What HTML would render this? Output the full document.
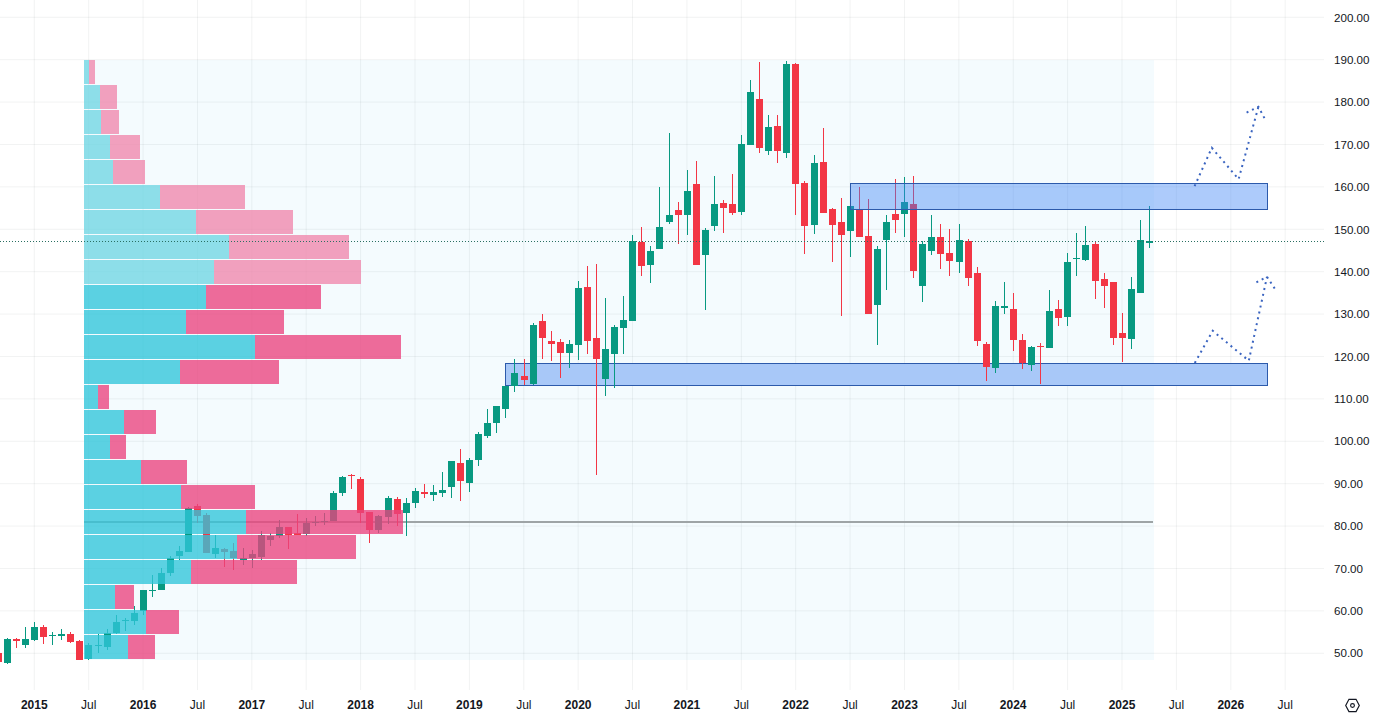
<!DOCTYPE html>
<html lang="en"><head><meta charset="utf-8"><title>Chart</title>
<style>html,body{margin:0;padding:0;background:#fff;}body{width:1376px;height:715px;overflow:hidden;}svg{display:block;}text{font-family:"Liberation Sans","DejaVu Sans",sans-serif;fill:#131722;}</style></head><body>
<svg width="1376" height="715" viewBox="0 0 1376 715">
<rect width="1376" height="715" fill="#ffffff"/>
<rect x="84" y="60" width="1070" height="600" fill="#f4fbfe" shape-rendering="crispEdges"/>
<g stroke="#2a2e39" stroke-opacity="0.06" stroke-width="1">
<line x1="34.30" y1="0" x2="34.30" y2="690"/>
<line x1="88.69" y1="0" x2="88.69" y2="690"/>
<line x1="143.07" y1="0" x2="143.07" y2="690"/>
<line x1="197.46" y1="0" x2="197.46" y2="690"/>
<line x1="251.84" y1="0" x2="251.84" y2="690"/>
<line x1="306.23" y1="0" x2="306.23" y2="690"/>
<line x1="360.62" y1="0" x2="360.62" y2="690"/>
<line x1="415.00" y1="0" x2="415.00" y2="690"/>
<line x1="469.39" y1="0" x2="469.39" y2="690"/>
<line x1="523.77" y1="0" x2="523.77" y2="690"/>
<line x1="578.16" y1="0" x2="578.16" y2="690"/>
<line x1="632.55" y1="0" x2="632.55" y2="690"/>
<line x1="686.93" y1="0" x2="686.93" y2="690"/>
<line x1="741.32" y1="0" x2="741.32" y2="690"/>
<line x1="795.70" y1="0" x2="795.70" y2="690"/>
<line x1="850.09" y1="0" x2="850.09" y2="690"/>
<line x1="904.48" y1="0" x2="904.48" y2="690"/>
<line x1="958.86" y1="0" x2="958.86" y2="690"/>
<line x1="1013.25" y1="0" x2="1013.25" y2="690"/>
<line x1="1067.63" y1="0" x2="1067.63" y2="690"/>
<line x1="1122.02" y1="0" x2="1122.02" y2="690"/>
<line x1="1176.41" y1="0" x2="1176.41" y2="690"/>
<line x1="1230.79" y1="0" x2="1230.79" y2="690"/>
<line x1="1285.18" y1="0" x2="1285.18" y2="690"/>
<line x1="0" y1="17.30" x2="1324" y2="17.30"/>
<line x1="0" y1="59.70" x2="1324" y2="59.70"/>
<line x1="0" y1="102.10" x2="1324" y2="102.10"/>
<line x1="0" y1="144.50" x2="1324" y2="144.50"/>
<line x1="0" y1="186.90" x2="1324" y2="186.90"/>
<line x1="0" y1="229.30" x2="1324" y2="229.30"/>
<line x1="0" y1="271.70" x2="1324" y2="271.70"/>
<line x1="0" y1="314.10" x2="1324" y2="314.10"/>
<line x1="0" y1="356.50" x2="1324" y2="356.50"/>
<line x1="0" y1="398.90" x2="1324" y2="398.90"/>
<line x1="0" y1="441.30" x2="1324" y2="441.30"/>
<line x1="0" y1="483.70" x2="1324" y2="483.70"/>
<line x1="0" y1="526.10" x2="1324" y2="526.10"/>
<line x1="0" y1="568.50" x2="1324" y2="568.50"/>
<line x1="0" y1="610.90" x2="1324" y2="610.90"/>
<line x1="0" y1="653.30" x2="1324" y2="653.30"/>
</g>
<rect x="84" y="521" width="1069" height="2" fill="#9ea4a6" shape-rendering="crispEdges"/>
<rect x="505.5" y="363.5" width="762" height="22" fill="#a8c8f8" stroke="#2c5aab" stroke-width="1" shape-rendering="crispEdges"/>
<g shape-rendering="crispEdges">
<rect x="-2" y="651" width="1" height="13" fill="#f23645"/>
<rect x="-5" y="653" width="7" height="9" fill="#f23645"/>
<rect x="7" y="638" width="1" height="26" fill="#089981"/>
<rect x="4" y="639" width="7" height="24" fill="#089981"/>
<rect x="16" y="638" width="1" height="10" fill="#f23645"/>
<rect x="13" y="639" width="7" height="2" fill="#f23645"/>
<rect x="25" y="627" width="1" height="21" fill="#089981"/>
<rect x="22" y="639" width="7" height="6" fill="#089981"/>
<rect x="34" y="622" width="1" height="19" fill="#089981"/>
<rect x="31" y="627" width="7" height="13" fill="#089981"/>
<rect x="43" y="625" width="1" height="19" fill="#f23645"/>
<rect x="40" y="627" width="7" height="10" fill="#f23645"/>
<rect x="52" y="632" width="1" height="13" fill="#089981"/>
<rect x="49" y="635" width="7" height="1" fill="#089981"/>
<rect x="61" y="629" width="1" height="11" fill="#089981"/>
<rect x="58" y="634" width="7" height="2" fill="#089981"/>
<rect x="70" y="632" width="1" height="11" fill="#f23645"/>
<rect x="67" y="634" width="7" height="8" fill="#f23645"/>
<rect x="79" y="640" width="1" height="20" fill="#f23645"/>
<rect x="76" y="641" width="7" height="19" fill="#f23645"/>
<rect x="88" y="643" width="1" height="17" fill="#089981"/>
<rect x="85" y="645" width="7" height="14" fill="#089981"/>
<rect x="98" y="634" width="1" height="19" fill="#089981"/>
<rect x="95" y="645" width="7" height="1" fill="#089981"/>
<rect x="107" y="629" width="1" height="21" fill="#089981"/>
<rect x="104" y="633" width="7" height="14" fill="#089981"/>
<rect x="116" y="615" width="1" height="19" fill="#089981"/>
<rect x="113" y="622" width="7" height="11" fill="#089981"/>
<rect x="125" y="618" width="1" height="13" fill="#089981"/>
<rect x="122" y="620" width="7" height="1" fill="#089981"/>
<rect x="134" y="606" width="1" height="19" fill="#089981"/>
<rect x="131" y="613" width="7" height="8" fill="#089981"/>
<rect x="143" y="590" width="1" height="25" fill="#089981"/>
<rect x="140" y="590" width="7" height="21" fill="#089981"/>
<rect x="152" y="575" width="1" height="22" fill="#089981"/>
<rect x="149" y="590" width="7" height="1" fill="#089981"/>
<rect x="161" y="568" width="1" height="22" fill="#089981"/>
<rect x="158" y="573" width="7" height="17" fill="#089981"/>
<rect x="170" y="556" width="1" height="20" fill="#089981"/>
<rect x="167" y="558" width="7" height="15" fill="#089981"/>
<rect x="179" y="546" width="1" height="14" fill="#089981"/>
<rect x="176" y="551" width="7" height="5" fill="#089981"/>
<rect x="188" y="507" width="1" height="45" fill="#089981"/>
<rect x="185" y="508" width="7" height="44" fill="#089981"/>
<rect x="197" y="504" width="1" height="19" fill="#f23645"/>
<rect x="194" y="506" width="7" height="10" fill="#f23645"/>
<rect x="206" y="513" width="1" height="40" fill="#f23645"/>
<rect x="203" y="515" width="7" height="38" fill="#f23645"/>
<rect x="215" y="535" width="1" height="23" fill="#089981"/>
<rect x="212" y="548" width="7" height="6" fill="#089981"/>
<rect x="224" y="548" width="1" height="19" fill="#f23645"/>
<rect x="221" y="549" width="7" height="3" fill="#f23645"/>
<rect x="233" y="543" width="1" height="27" fill="#f23645"/>
<rect x="230" y="551" width="7" height="7" fill="#f23645"/>
<rect x="243" y="548" width="1" height="17" fill="#089981"/>
<rect x="240" y="558" width="7" height="2" fill="#089981"/>
<rect x="252" y="550" width="1" height="18" fill="#089981"/>
<rect x="249" y="554" width="7" height="4" fill="#089981"/>
<rect x="261" y="531" width="1" height="29" fill="#089981"/>
<rect x="258" y="535" width="7" height="22" fill="#089981"/>
<rect x="270" y="533" width="1" height="13" fill="#089981"/>
<rect x="267" y="536" width="7" height="4" fill="#089981"/>
<rect x="279" y="520" width="1" height="18" fill="#089981"/>
<rect x="276" y="527" width="7" height="9" fill="#089981"/>
<rect x="288" y="527" width="1" height="22" fill="#f23645"/>
<rect x="285" y="527" width="7" height="8" fill="#f23645"/>
<rect x="297" y="514" width="1" height="21" fill="#f23645"/>
<rect x="294" y="533" width="7" height="2" fill="#f23645"/>
<rect x="306" y="518" width="1" height="18" fill="#089981"/>
<rect x="303" y="523" width="7" height="11" fill="#089981"/>
<rect x="315" y="516" width="1" height="10" fill="#089981"/>
<rect x="312" y="522" width="7" height="1" fill="#089981"/>
<rect x="324" y="513" width="1" height="12" fill="#089981"/>
<rect x="321" y="521" width="7" height="1" fill="#089981"/>
<rect x="333" y="491" width="1" height="30" fill="#089981"/>
<rect x="330" y="493" width="7" height="28" fill="#089981"/>
<rect x="342" y="476" width="1" height="20" fill="#089981"/>
<rect x="339" y="477" width="7" height="16" fill="#089981"/>
<rect x="351" y="474" width="1" height="15" fill="#f23645"/>
<rect x="348" y="475" width="7" height="1" fill="#f23645"/>
<rect x="360" y="477" width="1" height="46" fill="#f23645"/>
<rect x="357" y="479" width="7" height="34" fill="#f23645"/>
<rect x="369" y="512" width="1" height="31" fill="#f23645"/>
<rect x="366" y="512" width="7" height="18" fill="#f23645"/>
<rect x="378" y="515" width="1" height="18" fill="#089981"/>
<rect x="375" y="516" width="7" height="14" fill="#089981"/>
<rect x="388" y="496" width="1" height="28" fill="#089981"/>
<rect x="385" y="498" width="7" height="19" fill="#089981"/>
<rect x="397" y="497" width="1" height="29" fill="#f23645"/>
<rect x="394" y="499" width="7" height="15" fill="#f23645"/>
<rect x="406" y="498" width="1" height="38" fill="#089981"/>
<rect x="403" y="503" width="7" height="10" fill="#089981"/>
<rect x="415" y="488" width="1" height="20" fill="#089981"/>
<rect x="412" y="491" width="7" height="12" fill="#089981"/>
<rect x="424" y="484" width="1" height="14" fill="#f23645"/>
<rect x="421" y="492" width="7" height="2" fill="#f23645"/>
<rect x="433" y="485" width="1" height="16" fill="#089981"/>
<rect x="430" y="492" width="7" height="3" fill="#089981"/>
<rect x="442" y="472" width="1" height="25" fill="#089981"/>
<rect x="439" y="490" width="7" height="3" fill="#089981"/>
<rect x="451" y="461" width="1" height="37" fill="#089981"/>
<rect x="448" y="461" width="7" height="26" fill="#089981"/>
<rect x="460" y="449" width="1" height="52" fill="#f23645"/>
<rect x="457" y="463" width="7" height="18" fill="#f23645"/>
<rect x="469" y="458" width="1" height="34" fill="#089981"/>
<rect x="466" y="460" width="7" height="23" fill="#089981"/>
<rect x="478" y="432" width="1" height="34" fill="#089981"/>
<rect x="475" y="434" width="7" height="26" fill="#089981"/>
<rect x="487" y="409" width="1" height="29" fill="#089981"/>
<rect x="484" y="423" width="7" height="13" fill="#089981"/>
<rect x="496" y="406" width="1" height="27" fill="#089981"/>
<rect x="493" y="406" width="7" height="17" fill="#089981"/>
<rect x="505" y="386" width="1" height="32" fill="#089981"/>
<rect x="502" y="386" width="7" height="23" fill="#089981"/>
<rect x="514" y="359" width="1" height="33" fill="#089981"/>
<rect x="511" y="373" width="7" height="13" fill="#089981"/>
<rect x="524" y="359" width="1" height="26" fill="#f23645"/>
<rect x="521" y="376" width="7" height="4" fill="#f23645"/>
<rect x="533" y="323" width="1" height="62" fill="#089981"/>
<rect x="530" y="325" width="7" height="59" fill="#089981"/>
<rect x="542" y="314" width="1" height="45" fill="#f23645"/>
<rect x="539" y="321" width="7" height="17" fill="#f23645"/>
<rect x="551" y="331" width="1" height="30" fill="#f23645"/>
<rect x="548" y="341" width="7" height="3" fill="#f23645"/>
<rect x="560" y="339" width="1" height="39" fill="#f23645"/>
<rect x="557" y="342" width="7" height="11" fill="#f23645"/>
<rect x="569" y="340" width="1" height="28" fill="#089981"/>
<rect x="566" y="344" width="7" height="9" fill="#089981"/>
<rect x="578" y="281" width="1" height="79" fill="#089981"/>
<rect x="575" y="288" width="7" height="57" fill="#089981"/>
<rect x="587" y="266" width="1" height="88" fill="#f23645"/>
<rect x="584" y="287" width="7" height="54" fill="#f23645"/>
<rect x="596" y="264" width="1" height="211" fill="#f23645"/>
<rect x="593" y="338" width="7" height="21" fill="#f23645"/>
<rect x="605" y="298" width="1" height="98" fill="#089981"/>
<rect x="602" y="349" width="7" height="30" fill="#089981"/>
<rect x="614" y="325" width="1" height="63" fill="#089981"/>
<rect x="611" y="327" width="7" height="27" fill="#089981"/>
<rect x="623" y="296" width="1" height="58" fill="#089981"/>
<rect x="620" y="320" width="7" height="8" fill="#089981"/>
<rect x="632" y="235" width="1" height="86" fill="#089981"/>
<rect x="629" y="241" width="7" height="80" fill="#089981"/>
<rect x="641" y="227" width="1" height="49" fill="#f23645"/>
<rect x="638" y="242" width="7" height="24" fill="#f23645"/>
<rect x="650" y="246" width="1" height="37" fill="#089981"/>
<rect x="647" y="251" width="7" height="14" fill="#089981"/>
<rect x="659" y="187" width="1" height="62" fill="#089981"/>
<rect x="656" y="227" width="7" height="22" fill="#089981"/>
<rect x="669" y="133" width="1" height="91" fill="#089981"/>
<rect x="666" y="215" width="7" height="7" fill="#089981"/>
<rect x="678" y="202" width="1" height="42" fill="#f23645"/>
<rect x="675" y="210" width="7" height="5" fill="#f23645"/>
<rect x="687" y="170" width="1" height="65" fill="#089981"/>
<rect x="684" y="191" width="7" height="24" fill="#089981"/>
<rect x="696" y="161" width="1" height="104" fill="#f23645"/>
<rect x="693" y="184" width="7" height="81" fill="#f23645"/>
<rect x="705" y="228" width="1" height="82" fill="#089981"/>
<rect x="702" y="230" width="7" height="25" fill="#089981"/>
<rect x="714" y="176" width="1" height="55" fill="#089981"/>
<rect x="711" y="204" width="7" height="22" fill="#089981"/>
<rect x="723" y="200" width="1" height="33" fill="#f23645"/>
<rect x="720" y="203" width="7" height="5" fill="#f23645"/>
<rect x="732" y="174" width="1" height="41" fill="#f23645"/>
<rect x="729" y="204" width="7" height="9" fill="#f23645"/>
<rect x="741" y="135" width="1" height="80" fill="#089981"/>
<rect x="738" y="144" width="7" height="68" fill="#089981"/>
<rect x="750" y="80" width="1" height="65" fill="#089981"/>
<rect x="747" y="92" width="7" height="53" fill="#089981"/>
<rect x="759" y="62" width="1" height="91" fill="#f23645"/>
<rect x="756" y="99" width="7" height="49" fill="#f23645"/>
<rect x="768" y="115" width="1" height="40" fill="#089981"/>
<rect x="765" y="127" width="7" height="24" fill="#089981"/>
<rect x="777" y="115" width="1" height="48" fill="#f23645"/>
<rect x="774" y="126" width="7" height="25" fill="#f23645"/>
<rect x="786" y="61" width="1" height="97" fill="#089981"/>
<rect x="783" y="64" width="7" height="89" fill="#089981"/>
<rect x="795" y="63" width="1" height="152" fill="#f23645"/>
<rect x="792" y="64" width="7" height="120" fill="#f23645"/>
<rect x="804" y="181" width="1" height="73" fill="#f23645"/>
<rect x="801" y="183" width="7" height="43" fill="#f23645"/>
<rect x="814" y="155" width="1" height="79" fill="#089981"/>
<rect x="811" y="163" width="7" height="62" fill="#089981"/>
<rect x="823" y="128" width="1" height="85" fill="#f23645"/>
<rect x="820" y="162" width="7" height="51" fill="#f23645"/>
<rect x="832" y="208" width="1" height="54" fill="#f23645"/>
<rect x="829" y="209" width="7" height="16" fill="#f23645"/>
<rect x="841" y="198" width="1" height="118" fill="#f23645"/>
<rect x="838" y="222" width="7" height="13" fill="#f23645"/>
<rect x="850" y="206" width="1" height="51" fill="#089981"/>
<rect x="847" y="206" width="7" height="25" fill="#089981"/>
<rect x="859" y="187" width="1" height="50" fill="#f23645"/>
<rect x="856" y="210" width="7" height="27" fill="#f23645"/>
<rect x="868" y="199" width="1" height="115" fill="#f23645"/>
<rect x="865" y="236" width="7" height="78" fill="#f23645"/>
<rect x="877" y="246" width="1" height="99" fill="#089981"/>
<rect x="874" y="249" width="7" height="56" fill="#089981"/>
<rect x="886" y="215" width="1" height="75" fill="#089981"/>
<rect x="883" y="222" width="7" height="18" fill="#089981"/>
<rect x="895" y="179" width="1" height="54" fill="#f23645"/>
<rect x="892" y="214" width="7" height="6" fill="#f23645"/>
<rect x="904" y="177" width="1" height="60" fill="#089981"/>
<rect x="901" y="202" width="7" height="12" fill="#089981"/>
<rect x="913" y="176" width="1" height="102" fill="#f23645"/>
<rect x="910" y="204" width="7" height="67" fill="#f23645"/>
<rect x="922" y="241" width="1" height="61" fill="#089981"/>
<rect x="919" y="244" width="7" height="42" fill="#089981"/>
<rect x="931" y="215" width="1" height="40" fill="#089981"/>
<rect x="928" y="237" width="7" height="14" fill="#089981"/>
<rect x="940" y="224" width="1" height="45" fill="#f23645"/>
<rect x="937" y="237" width="7" height="17" fill="#f23645"/>
<rect x="949" y="229" width="1" height="47" fill="#f23645"/>
<rect x="946" y="253" width="7" height="8" fill="#f23645"/>
<rect x="959" y="224" width="1" height="49" fill="#089981"/>
<rect x="956" y="240" width="7" height="22" fill="#089981"/>
<rect x="968" y="239" width="1" height="47" fill="#f23645"/>
<rect x="965" y="241" width="7" height="37" fill="#f23645"/>
<rect x="977" y="267" width="1" height="79" fill="#f23645"/>
<rect x="974" y="273" width="7" height="68" fill="#f23645"/>
<rect x="986" y="342" width="1" height="39" fill="#f23645"/>
<rect x="983" y="344" width="7" height="23" fill="#f23645"/>
<rect x="995" y="301" width="1" height="72" fill="#089981"/>
<rect x="992" y="306" width="7" height="62" fill="#089981"/>
<rect x="1004" y="282" width="1" height="32" fill="#089981"/>
<rect x="1001" y="306" width="7" height="2" fill="#089981"/>
<rect x="1013" y="293" width="1" height="58" fill="#f23645"/>
<rect x="1010" y="309" width="7" height="31" fill="#f23645"/>
<rect x="1022" y="334" width="1" height="35" fill="#f23645"/>
<rect x="1019" y="340" width="7" height="23" fill="#f23645"/>
<rect x="1031" y="346" width="1" height="25" fill="#089981"/>
<rect x="1028" y="347" width="7" height="18" fill="#089981"/>
<rect x="1040" y="343" width="1" height="41" fill="#f23645"/>
<rect x="1037" y="346" width="7" height="1" fill="#f23645"/>
<rect x="1049" y="290" width="1" height="58" fill="#089981"/>
<rect x="1046" y="311" width="7" height="37" fill="#089981"/>
<rect x="1058" y="300" width="1" height="26" fill="#f23645"/>
<rect x="1055" y="309" width="7" height="9" fill="#f23645"/>
<rect x="1067" y="253" width="1" height="73" fill="#089981"/>
<rect x="1064" y="262" width="7" height="55" fill="#089981"/>
<rect x="1076" y="233" width="1" height="43" fill="#089981"/>
<rect x="1073" y="258" width="7" height="1" fill="#089981"/>
<rect x="1085" y="226" width="1" height="35" fill="#089981"/>
<rect x="1082" y="245" width="7" height="15" fill="#089981"/>
<rect x="1095" y="241" width="1" height="58" fill="#f23645"/>
<rect x="1092" y="244" width="7" height="37" fill="#f23645"/>
<rect x="1104" y="273" width="1" height="35" fill="#f23645"/>
<rect x="1101" y="279" width="7" height="7" fill="#f23645"/>
<rect x="1113" y="282" width="1" height="63" fill="#f23645"/>
<rect x="1110" y="282" width="7" height="56" fill="#f23645"/>
<rect x="1122" y="313" width="1" height="49" fill="#f23645"/>
<rect x="1119" y="333" width="7" height="5" fill="#f23645"/>
<rect x="1131" y="277" width="1" height="72" fill="#089981"/>
<rect x="1128" y="289" width="7" height="50" fill="#089981"/>
<rect x="1140" y="220" width="1" height="73" fill="#089981"/>
<rect x="1137" y="240" width="7" height="53" fill="#089981"/>
<rect x="1149" y="206" width="1" height="42" fill="#089981"/>
<rect x="1146" y="241" width="7" height="2" fill="#089981"/>
</g>
<g shape-rendering="crispEdges" fill-opacity="0.78">
<rect x="84" y="60" width="5.00" height="24" fill="#6fd6e3"/>
<rect x="89.00" y="60" width="5.60" height="24" fill="#ef86ac"/>
<rect x="84" y="85" width="15.60" height="24" fill="#6fd6e3"/>
<rect x="99.60" y="85" width="17.20" height="24" fill="#ef86ac"/>
<rect x="84" y="110" width="17.20" height="24" fill="#6fd6e3"/>
<rect x="101.20" y="110" width="17.60" height="24" fill="#ef86ac"/>
<rect x="84" y="135" width="25.70" height="24" fill="#6fd6e3"/>
<rect x="109.70" y="135" width="30.20" height="24" fill="#ef86ac"/>
<rect x="84" y="160" width="29.20" height="24" fill="#6fd6e3"/>
<rect x="113.20" y="160" width="31.80" height="24" fill="#ef86ac"/>
<rect x="84" y="185" width="76.00" height="24" fill="#6fd6e3"/>
<rect x="160.00" y="185" width="85.10" height="24" fill="#ef86ac"/>
<rect x="84" y="210" width="112.30" height="24" fill="#6fd6e3"/>
<rect x="196.30" y="210" width="96.60" height="24" fill="#ef86ac"/>
<rect x="84" y="235" width="145.00" height="24" fill="#6fd6e3"/>
<rect x="229.00" y="235" width="119.50" height="24" fill="#ef86ac"/>
<rect x="84" y="260" width="130.00" height="24" fill="#6fd6e3"/>
<rect x="214.00" y="260" width="146.50" height="24" fill="#ef86ac"/>
<rect x="84" y="285" width="121.75" height="24" fill="#30c5da"/>
<rect x="205.75" y="285" width="114.75" height="24" fill="#eb427d"/>
<rect x="84" y="310" width="101.75" height="24" fill="#30c5da"/>
<rect x="185.75" y="310" width="97.75" height="24" fill="#eb427d"/>
<rect x="84" y="335" width="171.00" height="24" fill="#30c5da"/>
<rect x="255.00" y="335" width="145.50" height="24" fill="#eb427d"/>
<rect x="84" y="360" width="96.00" height="24" fill="#30c5da"/>
<rect x="180.00" y="360" width="98.75" height="24" fill="#eb427d"/>
<rect x="84" y="385" width="14.00" height="24" fill="#30c5da"/>
<rect x="98.00" y="385" width="10.75" height="24" fill="#eb427d"/>
<rect x="84" y="410" width="40.00" height="24" fill="#30c5da"/>
<rect x="124.00" y="410" width="31.75" height="24" fill="#eb427d"/>
<rect x="84" y="435" width="26.00" height="24" fill="#30c5da"/>
<rect x="110.00" y="435" width="15.75" height="24" fill="#eb427d"/>
<rect x="84" y="460" width="56.75" height="24" fill="#30c5da"/>
<rect x="140.75" y="460" width="46.00" height="24" fill="#eb427d"/>
<rect x="84" y="485" width="96.75" height="24" fill="#30c5da"/>
<rect x="180.75" y="485" width="73.75" height="24" fill="#eb427d"/>
<rect x="84" y="510" width="161.75" height="24" fill="#30c5da"/>
<rect x="245.75" y="510" width="156.75" height="24" fill="#eb427d"/>
<rect x="84" y="535" width="153.00" height="24" fill="#30c5da"/>
<rect x="237.00" y="535" width="118.50" height="24" fill="#eb427d"/>
<rect x="84" y="560" width="107.25" height="24" fill="#30c5da"/>
<rect x="191.25" y="560" width="105.75" height="24" fill="#eb427d"/>
<rect x="84" y="585" width="31.00" height="24" fill="#30c5da"/>
<rect x="115.00" y="585" width="18.75" height="24" fill="#eb427d"/>
<rect x="84" y="610" width="62.25" height="24" fill="#30c5da"/>
<rect x="146.25" y="610" width="32.75" height="24" fill="#eb427d"/>
<rect x="84" y="635" width="44.00" height="24" fill="#30c5da"/>
<rect x="128.00" y="635" width="27.00" height="24" fill="#eb427d"/>
</g>
<rect x="850.5" y="183.5" width="417" height="26" fill="#3b82f6" fill-opacity="0.42" stroke="#2c5aab" stroke-width="1" shape-rendering="crispEdges"/>
<line x1="0" y1="241.5" x2="1324" y2="241.5" stroke="#2a6f62" stroke-width="1" stroke-dasharray="1 2" shape-rendering="crispEdges"/>
<g fill="none" stroke="#3a64c0" stroke-width="2" stroke-dasharray="2 4">
<polyline points="1194.6,186.2 1211.8,147.8 1238.6,179.2 1258.4,106.8"/>
<polyline points="1246.6,112.6 1258.4,106.8 1265.4,120"/>
<polyline points="1194.8,362.9 1212.7,330.8 1248.8,360.7 1267,276.8"/>
<polyline points="1256.4,282.4 1267,276.8 1275,289"/>
</g>
<g font-size="11.6">
<text x="1334" y="21.5">200.00</text>
<text x="1334" y="63.9">190.00</text>
<text x="1334" y="106.2">180.00</text>
<text x="1334" y="148.7">170.00</text>
<text x="1334" y="191.1">160.00</text>
<text x="1334" y="233.5">150.00</text>
<text x="1334" y="275.8">140.00</text>
<text x="1334" y="318.2">130.00</text>
<text x="1334" y="360.6">120.00</text>
<text x="1334" y="403.0">110.00</text>
<text x="1334" y="445.4">100.00</text>
<text x="1334" y="487.8">90.00</text>
<text x="1334" y="530.2">80.00</text>
<text x="1334" y="572.6">70.00</text>
<text x="1334" y="615.0">60.00</text>
<text x="1334" y="657.4">50.00</text>
</g>
<g font-size="12" text-anchor="middle">
<text x="34.3" y="708.8" font-weight="bold">2015</text>
<text x="88.7" y="708.8">Jul</text>
<text x="143.1" y="708.8" font-weight="bold">2016</text>
<text x="197.5" y="708.8">Jul</text>
<text x="251.8" y="708.8" font-weight="bold">2017</text>
<text x="306.2" y="708.8">Jul</text>
<text x="360.6" y="708.8" font-weight="bold">2018</text>
<text x="415.0" y="708.8">Jul</text>
<text x="469.4" y="708.8" font-weight="bold">2019</text>
<text x="523.8" y="708.8">Jul</text>
<text x="578.2" y="708.8" font-weight="bold">2020</text>
<text x="632.5" y="708.8">Jul</text>
<text x="686.9" y="708.8" font-weight="bold">2021</text>
<text x="741.3" y="708.8">Jul</text>
<text x="795.7" y="708.8" font-weight="bold">2022</text>
<text x="850.1" y="708.8">Jul</text>
<text x="904.5" y="708.8" font-weight="bold">2023</text>
<text x="958.9" y="708.8">Jul</text>
<text x="1013.2" y="708.8" font-weight="bold">2024</text>
<text x="1067.6" y="708.8">Jul</text>
<text x="1122.0" y="708.8" font-weight="bold">2025</text>
<text x="1176.4" y="708.8">Jul</text>
<text x="1230.8" y="708.8" font-weight="bold">2026</text>
<text x="1285.2" y="708.8">Jul</text>
</g>
<g fill="none" stroke="#131722" stroke-width="1.15" stroke-linejoin="miter">
<polygon points="1345.7,705.45 1348.95,699.35 1356.05,699.35 1359.3,705.45 1356.05,711.55 1348.95,711.55"/>
<circle cx="1352.5" cy="705.45" r="1.9"/>
</g>
</svg></body></html>
